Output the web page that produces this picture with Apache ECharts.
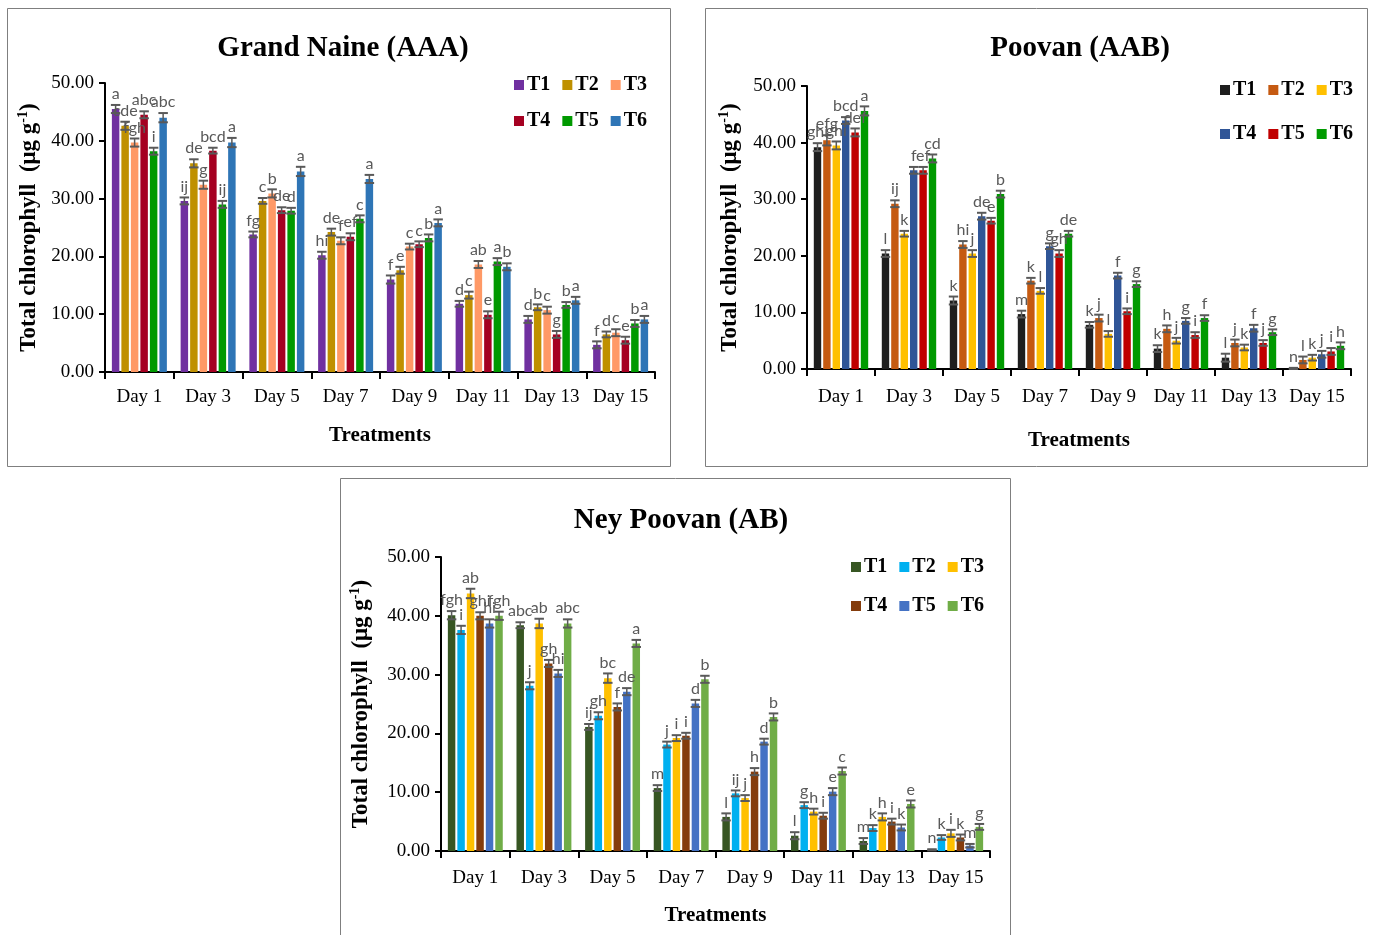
<!DOCTYPE html>
<html>
<head>
<meta charset="utf-8">
<title>Total chlorophyll of banana cultivars</title>
<script src="https://cdn.jsdelivr.net/npm/echarts@6/dist/echarts.min.js"></script>
<style>
  html, body { margin: 0; padding: 0; background: #ffffff; }
  #chart { width: 1373px; height: 935px; }
</style>
</head>
<body>
<div id="chart"></div>
<script>
// Sampling days and treatments shared by all three cultivars
const days = ['Day 1', 'Day 3', 'Day 5', 'Day 7', 'Day 9', 'Day 11', 'Day 13', 'Day 15'];
const treatments = ['T1', 'T2', 'T3', 'T4', 'T5', 'T6'];
const yTicks = [0, 10, 20, 30, 40, 50];

// Grand Naine (AAA): total chlorophyll (µg g-1), one row per treatment T1..T6
const grandNaineValues = [
  [45.5, 29.6, 23.8, 20.2, 16.0, 11.8, 9.1, 4.7],
  [42.6, 36.1, 29.6, 24.2, 17.6, 13.3, 11.2, 6.5],
  [39.7, 32.4, 30.9, 22.7, 21.7, 18.6, 10.7, 6.8],
  [44.5, 38.3, 28.0, 23.4, 22.1, 9.9, 6.5, 5.5],
  [38.2, 29.0, 27.9, 26.5, 23.2, 19.1, 11.6, 8.4],
  [44.0, 39.7, 34.7, 33.4, 25.8, 18.2, 12.4, 9.1]
];
const grandNaineErrors = [
  [0.7, 0.6, 0.5, 0.6, 0.7, 0.5, 0.6, 0.6],
  [0.7, 0.7, 0.5, 0.6, 0.6, 0.6, 0.5, 0.5],
  [0.7, 0.7, 0.7, 0.6, 0.5, 0.6, 0.6, 0.6],
  [0.6, 0.5, 0.5, 0.6, 0.5, 0.6, 0.6, 0.6],
  [0.6, 0.6, 0.5, 0.6, 0.6, 0.6, 0.5, 0.6],
  [0.8, 0.8, 0.8, 0.7, 0.6, 0.6, 0.6, 0.6]
];
const grandNaineLetters = [
  ['a', 'ij', 'fg', 'hi', 'f', 'd', 'd', 'f'],
  ['cde', 'de', 'c', 'de', 'e', 'c', 'b', 'd'],
  ['fgh', 'g', 'b', 'f', 'c', 'ab', 'c', 'c'],
  ['abc', 'bcd', 'de', 'ef', 'c', 'e', 'g', 'e'],
  ['i', 'ij', 'd', 'c', 'b', 'a', 'b', 'b'],
  ['abc', 'a', 'a', 'a', 'a', 'b', 'a', 'a']
];

// Poovan (AAB)
const poovanValues = [
  [39.2, 20.4, 12.1, 9.7, 7.8, 3.6, 2.0, 0.1],
  [40.4, 29.2, 22.0, 15.6, 9.0, 7.1, 4.6, 1.6],
  [39.5, 23.9, 20.4, 13.8, 6.2, 5.0, 3.8, 2.0],
  [43.9, 35.1, 27.0, 21.7, 16.5, 8.5, 7.2, 2.6],
  [41.8, 35.1, 26.2, 20.4, 10.2, 6.0, 4.6, 3.1],
  [45.6, 37.2, 30.9, 23.9, 15.0, 9.0, 6.5, 4.1]
];
const poovanErrors = [
  [0.7, 0.6, 0.7, 0.6, 0.5, 0.6, 0.7, 0.1],
  [0.9, 0.6, 0.6, 0.5, 0.6, 0.6, 0.6, 0.6],
  [0.7, 0.5, 0.6, 0.5, 0.5, 0.5, 0.5, 0.5],
  [0.6, 0.6, 0.6, 0.5, 0.5, 0.5, 0.6, 0.6],
  [0.7, 0.6, 0.5, 0.6, 0.5, 0.5, 0.5, 0.6],
  [0.8, 0.7, 0.6, 0.5, 0.5, 0.5, 0.5, 0.6]
];
const poovanLetters = [
  ['ghi', 'l', 'k', 'm', 'k', 'k', 'l', 'n'],
  ['efg', 'ij', 'hi', 'k', 'j', 'h', 'j', 'l'],
  ['ghi', 'k', 'j', 'l', 'l', 'j', 'k', 'k'],
  ['bcd', 'f', 'de', 'g', 'f', 'g', 'f', 'j'],
  ['def', 'ef', 'e', 'gh', 'i', 'i', 'j', 'i'],
  ['a', 'cd', 'b', 'de', 'g', 'f', 'g', 'h']
];

// Ney Poovan (AB)
const neyPoovanValues = [
  [40.1, 38.4, 21.1, 10.7, 5.8, 2.6, 1.7, 0.2],
  [37.6, 28.1, 23.0, 18.1, 9.8, 7.8, 3.9, 2.3],
  [43.8, 38.7, 29.4, 19.2, 9.0, 6.7, 5.8, 3.0],
  [40.0, 31.9, 24.5, 19.6, 13.5, 6.0, 5.0, 2.3],
  [38.7, 30.2, 27.1, 25.1, 18.6, 10.1, 4.0, 0.9],
  [40.0, 38.7, 35.3, 29.2, 22.8, 13.6, 8.0, 4.1]
];
const neyPoovanErrors = [
  [0.7, 0.5, 0.5, 0.5, 0.6, 0.6, 0.5, 0.1],
  [0.7, 0.6, 0.6, 0.5, 0.5, 0.5, 0.5, 0.4],
  [0.8, 0.8, 0.8, 0.5, 0.5, 0.5, 0.6, 0.6],
  [0.6, 0.6, 0.6, 0.5, 0.6, 0.5, 0.5, 0.5],
  [0.7, 0.6, 0.6, 0.6, 0.5, 0.6, 0.5, 0.3],
  [0.7, 0.7, 0.6, 0.6, 0.6, 0.6, 0.6, 0.5]
];
const neyPoovanLetters = [
  ['fgh', 'abc', 'ij', 'm', 'l', 'l', 'm', 'n'],
  ['i', 'j', 'gh', 'j', 'ij', 'g', 'k', 'k'],
  ['ab', 'ab', 'bc', 'i', 'j', 'h', 'h', 'i'],
  ['ghi', 'gh', 'f', 'i', 'h', 'i', 'i', 'k'],
  ['hi', 'hi', 'de', 'd', 'd', 'e', 'k', 'm'],
  ['fgh', 'abc', 'a', 'b', 'b', 'c', 'e', 'g']
];

// Colour palettes per cultivar
const grandNaineColors = ['#7030A0', '#BF9000', '#FF9966', '#A50021', '#009900', '#2E75B6'];
const poovanColors = ['#1E1E1E', '#C55A11', '#FFC000', '#2F5597', '#C00000', '#009A00'];
const neyPoovanColors = ['#375623', '#00B0F0', '#FFC000', '#843C0C', '#4472C4', '#70AD47'];

const SERIF = '"Liberation Serif", "Times New Roman", serif';
const LETTER_FONT = 'Lato, "Noto Sans", sans-serif';
const BAR_CAT_GAP = 0.2;
const BAR_GAP = 0.27;

const panels = [
  {
    title: 'Grand Naine (AAA)', values: grandNaineValues, errors: grandNaineErrors,
    letters: grandNaineLetters, colors: grandNaineColors,
    box: [7, 8, 663, 458], titleX: 338, titleY: 29,
    grid: { left: 105, top: 83, width: 550, height: 289 },
    legendX: 514, legendY: [75, 111], yNameGap: 63, xNameGap: 53, xLabelMargin: 16
  },
  {
    title: 'Poovan (AAB)', values: poovanValues, errors: poovanErrors,
    letters: poovanLetters, colors: poovanColors,
    box: [705, 8, 662, 458], titleX: 1075, titleY: 29,
    grid: { left: 807, top: 86, width: 544, height: 283 },
    legendX: 1220, legendY: [80, 124], yNameGap: 64, xNameGap: 61, xLabelMargin: 19
  },
  {
    title: 'Ney Poovan (AB)', values: neyPoovanValues, errors: neyPoovanErrors,
    letters: neyPoovanLetters, colors: neyPoovanColors,
    box: [340, 478, 670, 470], titleX: 676, titleY: 501,
    grid: { left: 441, top: 557, width: 549, height: 294 },
    legendX: 851, legendY: [557, 596], yNameGap: 67, xNameGap: 54, xLabelMargin: 18
  }
];

const option = {
  animation: false,
  backgroundColor: '#ffffff',
  title: [],
  grid: [],
  xAxis: [],
  yAxis: [],
  legend: [],
  series: [],
  graphic: []
};

panels.forEach((p, pi) => {
  // panel frame
  option.graphic.push({
    type: 'rect', silent: true, z: -1,
    shape: { x: p.box[0] + 0.5, y: p.box[1] + 0.5, width: p.box[2], height: p.box[3] },
    style: { fill: 'none', stroke: '#7F7F7F', lineWidth: 1 }
  });

  option.title.push({
    text: p.title, left: p.titleX, top: p.titleY, textAlign: 'center',
    textStyle: { fontFamily: SERIF, fontWeight: 'bold', fontSize: 29, color: '#000' }
  });

  option.grid.push(Object.assign({ containLabel: false }, p.grid));

  option.xAxis.push({
    type: 'category', gridIndex: pi, data: days,
    name: 'Treatments', nameLocation: 'middle', nameGap: p.xNameGap,
    nameTextStyle: { fontFamily: SERIF, fontWeight: 'bold', fontSize: 21, color: '#000' },
    axisLine: { lineStyle: { color: '#000', width: 2 } },
    axisTick: { show: true, length: 7, lineStyle: { color: '#000', width: 2 } },
    axisLabel: { fontFamily: SERIF, fontSize: 19, color: '#000', margin: p.xLabelMargin, interval: 0 },
    splitLine: { show: false }
  });

  option.yAxis.push({
    type: 'value', gridIndex: pi, min: yTicks[0], max: yTicks[yTicks.length - 1], interval: yTicks[1] - yTicks[0],
    name: 'Total chlorophyll  (μg g{sup|-1})', nameLocation: 'middle', nameRotate: 90, nameGap: p.yNameGap,
    nameTextStyle: {
      fontFamily: SERIF, fontWeight: 'bold', fontSize: 23, color: '#000', lineHeight: 26,
      rich: { sup: { fontFamily: SERIF, fontWeight: 'bold', fontSize: 14, color: '#000', verticalAlign: 'top', lineHeight: 26, padding: [0, 0, 10, 0] } }
    },
    axisLine: { show: true, lineStyle: { color: '#000', width: 2 } },
    axisTick: { show: true, length: 6, lineStyle: { color: '#000', width: 2 } },
    axisLabel: { fontFamily: SERIF, fontSize: 19, color: '#000', margin: 11, formatter: v => v.toFixed(2) },
    splitLine: { show: false }
  });

  const names = treatments.map(t => p.title + ':' + t);

  // two legend rows of three treatments each
  [0, 1].forEach(row => {
    option.legend.push({
      data: names.slice(row * 3, row * 3 + 3),
      left: p.legendX, top: p.legendY[row], orient: 'horizontal',
      icon: 'rect', itemWidth: 10, itemHeight: 10, itemGap: 12, padding: 0,
      selectedMode: false,
      formatter: n => n.slice(n.indexOf(':') + 1),
      textStyle: { fontFamily: SERIF, fontWeight: 'bold', fontSize: 20, color: '#000', padding: [0, 0, 0, -2] }
    });
  });

  treatments.forEach((t, ti) => {
    option.series.push({
      type: 'bar', name: names[ti], xAxisIndex: pi, yAxisIndex: pi,
      data: p.values[ti],
      barCategoryGap: (BAR_CAT_GAP * 100) + '%', barGap: (BAR_GAP * 100) + '%',
      itemStyle: { color: p.colors[ti] }
    });
  });

  // error bars and significance letters, placed over each bar of the group
  treatments.forEach((t, ti) => {
    const data = p.values[ti].map((v, di) => [di, v, p.errors[ti][di], p.letters[ti][di]]);
    option.series.push({
      type: 'custom', name: 'err-' + names[ti], xAxisIndex: pi, yAxisIndex: pi, z: 5,
      data: data,
      encode: { x: 0, y: 1 },
      renderItem: (params, api) => {
        const di = api.value(0);
        const v = api.value(1);
        const e = api.value(2);
        const letter = data[params.dataIndex][3];
        const catW = api.size([1, 0])[0];
        const usable = catW * (1 - BAR_CAT_GAP);
        const n = treatments.length;
        const bw = usable / (n + (n - 1) * BAR_GAP);
        const gap = bw * BAR_GAP;
        const cx = api.coord([di, 0])[0] - usable / 2 + ti * (bw + gap) + bw / 2;
        const yTop = api.coord([di, v + e])[1];
        const yBot = api.coord([di, Math.max(v - e, 0)])[1];
        const half = bw / 2 + 1;
        const stroke = { stroke: '#595959', lineWidth: 2 };
        return {
          type: 'group',
          children: [
            { type: 'line', shape: { x1: cx, y1: yTop, x2: cx, y2: yBot }, style: { stroke: '#595959', lineWidth: 1.5 } },
            { type: 'line', shape: { x1: cx - half, y1: yTop, x2: cx + half, y2: yTop }, style: stroke },
            { type: 'line', shape: { x1: cx - half, y1: yBot, x2: cx + half, y2: yBot }, style: stroke },
            {
              type: 'text', x: cx, y: yTop - 3,
              style: { text: letter, fill: '#595959', font: '16px ' + LETTER_FONT, align: 'center', verticalAlign: 'bottom' }
            }
          ]
        };
      }
    });
  });
});

const chart = echarts.init(document.getElementById('chart'), null, { renderer: 'canvas' });
chart.setOption(option);
</script>
</body>
</html>
